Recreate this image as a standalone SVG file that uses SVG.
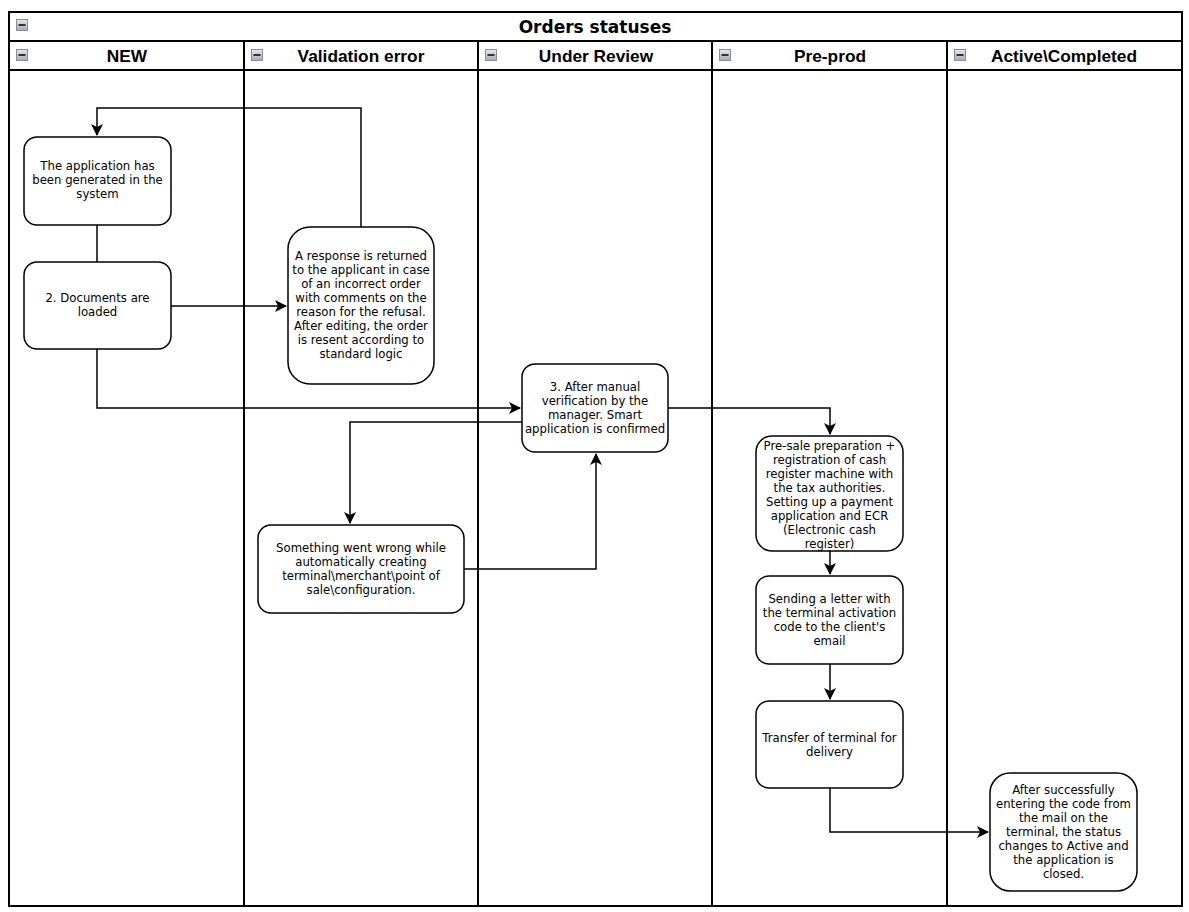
<svg xmlns="http://www.w3.org/2000/svg" width="1189" height="912" viewBox="0 0 1189 912">
<defs>
<linearGradient id="ig" x1="0" y1="0" x2="0" y2="1"><stop offset="0" stop-color="#e8e8ec"/><stop offset="1" stop-color="#a8aab4"/></linearGradient>
<marker id="arr" viewBox="0 0 12 12" refX="11" refY="6" markerWidth="12" markerHeight="12" markerUnits="userSpaceOnUse" orient="auto"><path d="M0,0 L12,6 L0,12 L3,6 Z" fill="#000"/></marker>
<g id="icon"><rect x="0.5" y="0.5" width="11" height="11" fill="url(#ig)" stroke="#8a8c96" stroke-width="1"/><rect x="2.5" y="5" width="7" height="2" fill="#333"/></g>
</defs>
<style>
.frame{fill:none;stroke:#000;stroke-width:2}
.node{fill:#fff;stroke:#000;stroke-width:1.5}
.t{font-family:"DejaVu Sans",Verdana,sans-serif;font-size:11.7px;fill:#000;text-anchor:middle}
.h{font-family:"Liberation Sans",Arial,sans-serif;font-size:17.3px;font-weight:bold;fill:#000;text-anchor:middle}
.title{font-family:"DejaVu Sans",Verdana,sans-serif;font-size:17px;font-weight:bold;fill:#000;text-anchor:middle}
.c{fill:none;stroke:#000;stroke-width:1.5}
</style>
<rect width="1189" height="912" fill="#fff"/>
<g id="pool">
<rect class="frame" x="9" y="12" width="1173" height="894" fill="#fff"/>
<line class="frame" x1="9" y1="41" x2="1182" y2="41"/>
<line class="frame" x1="9" y1="70" x2="1182" y2="70"/>
<line class="frame" x1="244" y1="41" x2="244" y2="906"/>
<line class="frame" x1="478" y1="41" x2="478" y2="906"/>
<line class="frame" x1="712" y1="41" x2="712" y2="906"/>
<line class="frame" x1="947" y1="41" x2="947" y2="906"/>
<use href="#icon" x="16" y="19"/>
<text class="title" x="595" y="33">Orders statuses</text>
<use href="#icon" x="16" y="49"/>
<text class="h" x="127" y="62">NEW</text>
<use href="#icon" x="251" y="49"/>
<text class="h" x="361" y="62">Validation error</text>
<use href="#icon" x="485" y="49"/>
<text class="h" x="596" y="62">Under Review</text>
<use href="#icon" x="719" y="49"/>
<text class="h" x="830" y="62">Pre-prod</text>
<use href="#icon" x="954" y="49"/>
<text class="h" x="1064" y="62">Active\Completed</text>
</g>
<g id="connectors">
<path class="c" d="M361,227 V108 H97 V135" marker-end="url(#arr)"/>
<path class="c" d="M97,225 V262"/>
<path class="c" d="M171,306 H286" marker-end="url(#arr)"/>
<path class="c" d="M97,349 V408 H520" marker-end="url(#arr)"/>
<path class="c" d="M522,422 H350 V523" marker-end="url(#arr)"/>
<path class="c" d="M464,569 H596 V454" marker-end="url(#arr)"/>
<path class="c" d="M668,408 H830 V434" marker-end="url(#arr)"/>
<path class="c" d="M830,551 V574" marker-end="url(#arr)"/>
<path class="c" d="M830,664 V699" marker-end="url(#arr)"/>
<path class="c" d="M830,788 V832 H988" marker-end="url(#arr)"/>
</g>
<g id="n1">
<rect class="node" x="24" y="137" width="147" height="88" rx="13"/>
<text class="t" x="97.5" y="170">The application has</text>
<text class="t" x="97.5" y="184">been generated in the</text>
<text class="t" x="97.5" y="198">system</text>
</g>
<g id="n2">
<rect class="node" x="24" y="262" width="147" height="87" rx="13"/>
<text class="t" x="97.5" y="302">2. Documents are</text>
<text class="t" x="97.5" y="316">loaded</text>
</g>
<g id="n3">
<rect class="node" x="288" y="227" width="146" height="157" rx="22"/>
<text class="t" x="361" y="260">A response is returned</text>
<text class="t" x="361" y="274">to the applicant in case</text>
<text class="t" x="361" y="288">of an incorrect order</text>
<text class="t" x="361" y="302">with comments on the</text>
<text class="t" x="361" y="316">reason for the refusal.</text>
<text class="t" x="361" y="330">After editing, the order</text>
<text class="t" x="361" y="344">is resent according to</text>
<text class="t" x="361" y="358">standard logic</text>
</g>
<g id="n4">
<rect class="node" x="522" y="364" width="146" height="88" rx="13"/>
<text class="t" x="595" y="391">3. After manual</text>
<text class="t" x="595" y="405">verification by the</text>
<text class="t" x="595" y="419">manager. Smart</text>
<text class="t" x="595" y="433">application is confirmed</text>
</g>
<g id="n5">
<rect class="node" x="258" y="525" width="206" height="88" rx="13"/>
<text class="t" x="361" y="552">Something went wrong while</text>
<text class="t" x="361" y="566">automatically creating</text>
<text class="t" x="361" y="580">terminal\merchant\point of</text>
<text class="t" x="361" y="594">sale\configuration.</text>
</g>
<g id="n6">
<rect class="node" x="756" y="436" width="147" height="115" rx="16"/>
<text class="t" x="829.5" y="449.5">Pre-sale preparation +</text>
<text class="t" x="829.5" y="463.5">registration of cash</text>
<text class="t" x="829.5" y="477.5">register machine with</text>
<text class="t" x="829.5" y="491.5">the tax authorities.</text>
<text class="t" x="829.5" y="505.5">Setting up a payment</text>
<text class="t" x="829.5" y="519.5">application and ECR</text>
<text class="t" x="829.5" y="533.5">(Electronic cash</text>
<text class="t" x="829.5" y="547.5">register)</text>
</g>
<g id="n7">
<rect class="node" x="756" y="576" width="147" height="88" rx="13"/>
<text class="t" x="829.5" y="603">Sending a letter with</text>
<text class="t" x="829.5" y="617">the terminal activation</text>
<text class="t" x="829.5" y="631">code to the client's</text>
<text class="t" x="829.5" y="645">email</text>
</g>
<g id="n8">
<rect class="node" x="756" y="701" width="147" height="87" rx="13"/>
<text class="t" x="829.5" y="742">Transfer of terminal for</text>
<text class="t" x="829.5" y="756">delivery</text>
</g>
<g id="n9">
<rect class="node" x="990" y="773" width="147" height="118" rx="20"/>
<text class="t" x="1063.5" y="794">After successfully</text>
<text class="t" x="1063.5" y="808">entering the code from</text>
<text class="t" x="1063.5" y="822">the mail on the</text>
<text class="t" x="1063.5" y="836">terminal, the status</text>
<text class="t" x="1063.5" y="850">changes to Active and</text>
<text class="t" x="1063.5" y="864">the application is</text>
<text class="t" x="1063.5" y="878">closed.</text>
</g>
</svg>
